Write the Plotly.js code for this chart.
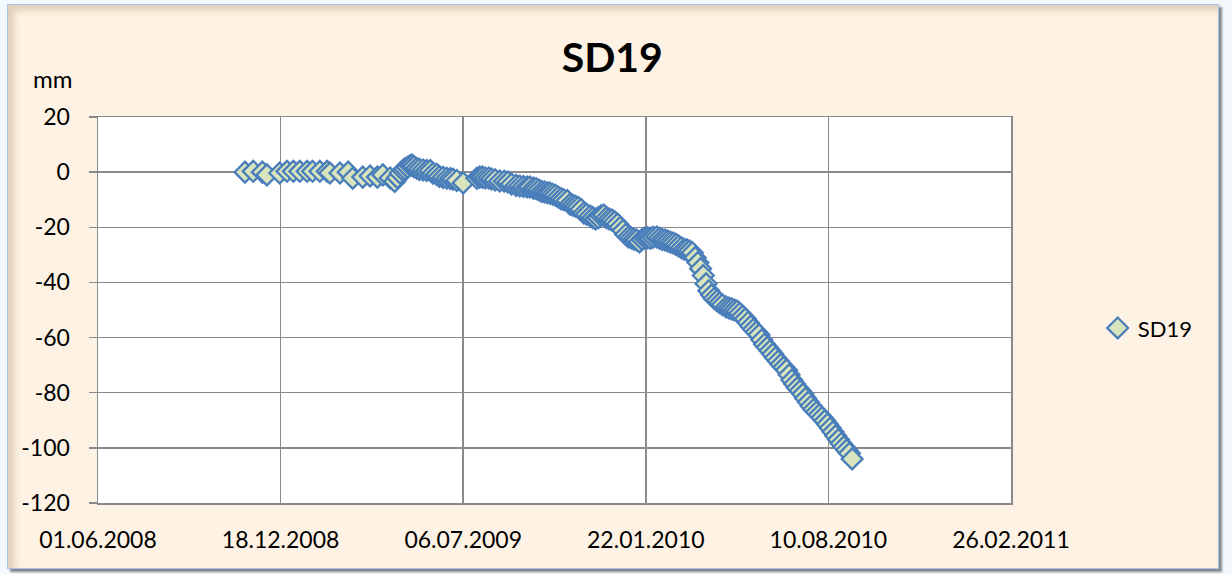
<!DOCTYPE html>
<html>
<head>
<meta charset="utf-8">
<script src="https://cdn.plot.ly/plotly-3.0.1.min.js"></script>
<style>
  html, body { margin: 0; padding: 0; background: #f3f8fd; }
  #frame {
    position: absolute; left: 7px; top: 4px; width: 1210px; height: 563px;
    background: #fdf2e3; border: 1px solid #a9c4e6;
    box-shadow: 3px 3px 2px rgba(0,0,0,0.45), inset 6px 5px 7px rgba(170,140,100,0.35);
  }
  #chart { position: absolute; left: 0; top: 0; width: 1232px; height: 574px; }
</style>
</head>
<body>
<div id="frame"></div>
<div id="chart"></div>
<script>
// SD19 settlement readings (date, mm)
const dates = [
  '2008-11-09','2008-11-18','2008-11-28','2008-12-03','2008-12-17','2008-12-25',
  '2009-01-01','2009-01-08','2009-01-16','2009-01-22','2009-01-30','2009-02-07',
  '2009-02-10','2009-02-21','2009-03-02','2009-03-07','2009-03-18','2009-03-26',
  '2009-04-03','2009-04-09','2009-04-17','2009-04-22','2009-04-25','2009-04-28',
  '2009-05-01','2009-05-03','2009-05-06','2009-05-09','2009-05-11','2009-05-13',
  '2009-05-16','2009-05-19','2009-05-23','2009-05-27','2009-05-31','2009-06-03',
  '2009-06-07','2009-06-10','2009-06-14','2009-06-18','2009-06-22','2009-06-25',
  '2009-06-29','2009-07-06','2009-07-21','2009-07-24','2009-07-27','2009-07-30',
  '2009-08-03','2009-08-06','2009-08-10','2009-08-15','2009-08-20','2009-08-24',
  '2009-08-28','2009-09-02','2009-09-06','2009-09-10','2009-09-14','2009-09-17',
  '2009-09-21','2009-09-24','2009-09-27','2009-09-30','2009-10-03','2009-10-06',
  '2009-10-09','2009-10-12','2009-10-15','2009-10-18','2009-10-21','2009-10-24',
  '2009-10-28','2009-10-31','2009-11-03','2009-11-06','2009-11-09','2009-11-12',
  '2009-11-15','2009-11-18','2009-11-22','2009-11-25','2009-11-28','2009-12-01',
  '2009-12-04','2009-12-07','2009-12-10','2009-12-13','2009-12-16','2009-12-19',
  '2009-12-22','2009-12-25','2009-12-28','2009-12-31','2010-01-03','2010-01-06',
  '2010-01-09','2010-01-12','2010-01-15','2010-01-18','2010-01-21','2010-01-24',
  '2010-01-27','2010-01-30','2010-02-03','2010-02-06','2010-02-09','2010-02-12',
  '2010-02-15','2010-02-18','2010-02-21','2010-02-24','2010-02-27','2010-03-02',
  '2010-03-05','2010-03-08','2010-03-11','2010-03-14','2010-03-17','2010-03-20',
  '2010-03-23','2010-03-26','2010-03-29','2010-04-01','2010-04-04','2010-04-07',
  '2010-04-10','2010-04-13','2010-04-16','2010-04-20','2010-04-23','2010-04-26',
  '2010-04-29','2010-05-02','2010-05-05','2010-05-08','2010-05-11','2010-05-14',
  '2010-05-17','2010-05-20','2010-05-23','2010-05-26','2010-05-29','2010-06-01',
  '2010-06-04','2010-06-07','2010-06-10','2010-06-13','2010-06-16','2010-06-19',
  '2010-06-22','2010-06-25','2010-06-28','2010-07-01','2010-07-04','2010-07-07',
  '2010-07-10','2010-07-13','2010-07-16','2010-07-19','2010-07-22','2010-07-25',
  '2010-07-28','2010-07-31','2010-08-03','2010-08-06','2010-08-09','2010-08-12',
  '2010-08-15','2010-08-18','2010-08-21','2010-08-24','2010-08-27','2010-08-30',
  '2010-09-02','2010-09-05'
];
const values = [
  0, 0.3, 0, -1.0, -0.3, 0.3,
  0.3, 0.3, 0.3, 0.3, 0.3, 0.3,
  -0.3, -0.3, 0, -2.2, -1.8, -1.4,
  -1.8, -1.0, -2.1, -3.4, -2.0, -0.4,
  0.6, 1.2, 1.8, 2.4, 2.6, 2.0,
  1.4, 1.0, 0.8, 0.6, 0.6, -0.4,
  -0.8, -1.6, -1.9, -2.2, -2.3, -2.6,
  -3.0, -3.9, -2.2, -1.8, -1.8, -2.1,
  -2.1, -2.5, -2.8, -3.2, -3.3, -3.6,
  -4.3, -4.8, -5.0, -5.2, -5.4, -5.4,
  -5.8, -6.0, -6.5, -7.0, -7.2, -7.5,
  -7.6, -8.0, -8.4, -9.0, -9.6, -10.0,
  -10.3, -11.6, -12.0, -12.4, -12.8, -13.5,
  -14.8, -15.3, -15.9, -16.5, -17.0, -16.5,
  -15.8, -15.6, -16.5, -17.0, -17.4, -18.0,
  -18.8, -20.0, -21.2, -22.6, -23.5, -23.9,
  -24.3, -24.6, -25.3, -24.4, -23.9, -23.8,
  -24.0, -23.6, -23.5, -24.0, -24.4, -24.6,
  -25.0, -25.4, -25.7, -26.2, -26.8, -27.4,
  -28.0, -28.2, -28.6, -29.2, -31.0, -32.8,
  -35.0, -37.5, -40.5, -43.0, -44.6, -45.8,
  -46.6, -47.4, -48.1, -48.9, -49.3, -49.6,
  -50.0, -50.4, -51.2, -52.2, -53.2, -54.5,
  -55.8, -57.0, -58.0, -59.0, -60.8, -62.4,
  -63.5, -64.8, -66.0, -67.3, -68.5, -69.7,
  -70.8, -71.8, -73.5, -75.4, -76.8, -78.2,
  -79.3, -80.5, -82.0, -83.4, -84.8, -86.0,
  -87.0, -88.0, -89.0, -90.2, -91.4, -92.8,
  -94.2, -95.6, -97.0, -98.4, -99.6, -100.8,
  -102.0, -104.0
];

// y tick labels use a plain hyphen like the original
const yTicks = [20, 0, -20, -40, -60, -80, -100, -120];
const yTickText = ['20', '0', '-20', '-40', '-60', '-80', '-100', '-120'];

const xStart = '2008-06-01';
const xEnd = '2011-02-26';
const DAY = 86400000;

const FONT = 'Lato, "Open Sans", sans-serif';
const gridColor = '#8a8a8a';

const trace = {
  x: dates,
  y: values,
  type: 'scatter',
  mode: 'markers',
  name: 'SD19',
  marker: {
    symbol: 'diamond', size: 16, color: '#d7e4bd',
    line: { color: '#4a7ebb', width: 2.3 },
  },
  hovertemplate: '%{x|%d.%m.%Y}<br>%{y} mm<extra></extra>',
};

const layout = {
  width: 1232,
  height: 574,
  margin: { l: 98, r: 221, t: 117, b: 71 },
  paper_bgcolor: 'rgba(0,0,0,0)',
  plot_bgcolor: '#ffffff',
  font: { family: FONT, size: 23, color: '#000' },
  title: {
    text: '<b>SD19</b>', font: { family: FONT, size: 41, color: '#000' },
    xref: 'container', x: 0.497, xanchor: 'center',
    yref: 'container', y: 0.9, yanchor: 'middle',
  },
  xaxis: {
    type: 'date',
    range: [xStart, xEnd],
    tick0: xStart,
    dtick: 200 * DAY,
    tickformat: '%d.%m.%Y',
    showgrid: true, gridcolor: gridColor, gridwidth: 1.5,
    showline: true, mirror: true, linecolor: gridColor, linewidth: 1.5,
    zeroline: false,
    ticks: 'outside', ticklen: 16, tickcolor: 'rgba(0,0,0,0)',
    tickfont: { family: FONT, size: 23 },
  },
  yaxis: {
    range: [-120, 20],
    tickmode: 'array', tickvals: yTicks, ticktext: yTickText,
    showgrid: true, gridcolor: gridColor, gridwidth: 1.5,
    zeroline: false,
    showline: true, mirror: true, linecolor: gridColor, linewidth: 1.5,
    ticks: 'outside', ticklen: 8, tickcolor: gridColor, tickwidth: 1.5,
    ticklabelstandoff: 14,
    tickfont: { family: FONT, size: 23 },
  },
  showlegend: true,
  legend: {
    x: 1.095, xanchor: 'left', y: 0.453, yanchor: 'middle',
    bgcolor: 'rgba(0,0,0,0)',
    font: { family: FONT, size: 22 },
  },
  annotations: [{
    text: 'mm', xref: 'paper', yref: 'paper', x: -0.05, y: 1.1,
    xanchor: 'center', yanchor: 'middle', showarrow: false,
    font: { family: FONT, size: 24 },
  }],
};

Plotly.newPlot('chart', [trace], layout, { displayModeBar: false, staticPlot: true });
</script>
</body>
</html>
